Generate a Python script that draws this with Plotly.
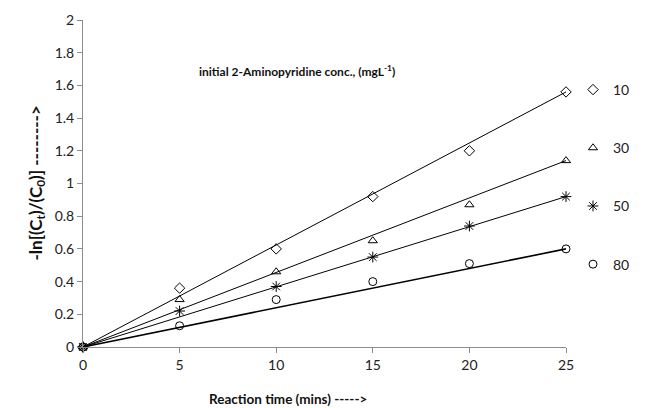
import numpy as np
import plotly.graph_objects as go

time_min = [0, 5, 10, 15, 20, 25]
series_names = ["10", "30", "50", "80"]
y_10 = [0, 0.36, 0.60, 0.92, 1.20, 1.56]
y_30 = [0, 0.29, 0.46, 0.65, 0.87, 1.14]
y_50 = [0, 0.22, 0.37, 0.55, 0.74, 0.92]
y_80 = [0, 0.13, 0.29, 0.40, 0.51, 0.60]
series_values = [y_10, y_30, y_50, y_80]
symbols = ["diamond-open", "triangle-up-open", "asterisk-open", "circle-open"]
x_ticks = [0, 5, 10, 15, 20, 25]
y_ticks = [0, 0.2, 0.4, 0.6, 0.8, 1, 1.2, 1.4, 1.6, 1.8, 2]
y_tick_text = ["0", "0.2", "0.4", "0.6", "0.8", "1", "1.2", "1.4", "1.6", "1.8", "2"]

FONT = "Lato, 'Open Sans', sans-serif"
fig = go.Figure()

for name, vals in zip(series_names, series_values):
    # trend line from first to last measured point
    fig.add_trace(go.Scatter(
        x=[time_min[0], time_min[-1]], y=[vals[0], vals[-1]], mode="lines",
        line=dict(color="black", width=1.6 if name == "80" else 1),
        showlegend=False, hoverinfo="skip", cliponaxis=False))
for name, vals, sym in zip(series_names, series_values, symbols):
    fig.add_trace(go.Scatter(
        x=time_min, y=vals, mode="markers", name=name, legendgroup=name,
        marker=dict(symbol=sym, size=8 if sym != "asterisk-open" else 9,
                    color="black", line=dict(color="black", width=1)),
        cliponaxis=False))

fig.update_layout(
    width=656, height=408,
    margin=dict(l=83, r=90, t=20, b=61),
    paper_bgcolor="white", plot_bgcolor="white",
    font=dict(family=FONT, size=13, color="#222"),
    legend=dict(x=1.0145, y=0.835, xanchor="left", yanchor="top",
                tracegroupgap=37, itemwidth=30,
                font=dict(family=FONT, size=14, color="#222"),
                bgcolor="rgba(0,0,0,0)"),
    xaxis=dict(range=[0, 25], tickvals=x_ticks, showgrid=False, zeroline=False,
               showline=True, linecolor="#8c8c8c", linewidth=1,
               ticks="outside", ticklen=5, tickcolor="#8c8c8c",
               tickfont=dict(size=14, color="#222")),
    yaxis=dict(range=[0, 2], tickvals=y_ticks, ticktext=y_tick_text, showgrid=False,
               zeroline=False, showline=True, linecolor="#8c8c8c", linewidth=1,
               ticks="outside", ticklen=5, tickcolor="#8c8c8c",
               tickfont=dict(size=14, color="#222")),
    annotations=[
        dict(text="<b>initial 2-Aminopyridine conc., (mgL<sup>-1</sup>)</b>",
             xref="paper", yref="paper", x=0.443, y=0.875, showarrow=False,
             font=dict(size=12, color="#111")),
        dict(text="<b>Reaction time (mins) -----></b>",
             xref="paper", yref="paper", x=0.424, y=-0.19, showarrow=False,
             font=dict(size=13.5, color="#111")),
        dict(text="<b>-ln[(C<sub>t</sub>)/(C<sub>0</sub>)] --------></b>",
             xref="paper", yref="paper", x=-0.125, y=0.502, showarrow=False,
             textangle=-90, font=dict(size=17, color="#111")),
    ],
)

fig.write_html("out.html")
